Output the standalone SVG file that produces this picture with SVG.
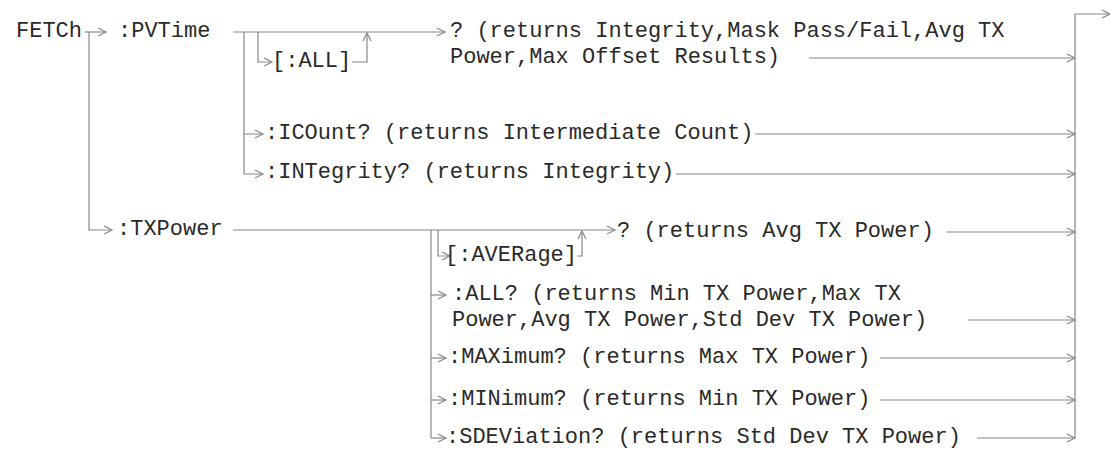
<svg xmlns="http://www.w3.org/2000/svg" width="1110" height="456" viewBox="0 0 1110 456">
<style>
  text { font-family: "Liberation Mono", "Courier New", monospace; font-size: 22px; fill: #2a2a2a; }
  .ln { fill: none; stroke: #888; stroke-width: 1.2; }
  .ar { marker-end: url(#ah); }
</style>
<defs>
  <marker id="ah" markerUnits="userSpaceOnUse" markerWidth="12" markerHeight="12" refX="9" refY="5" orient="auto">
    <path d="M1,1 L9,5 L1,9" fill="none" stroke="#888" stroke-width="1.2"/>
  </marker>
</defs>
<rect width="1110" height="456" fill="#fff"/>
<g id="connectors">
  <path class="ln ar" d="M85,32 H106"/>
  <path class="ln ar" d="M89,32 V230 H112"/>
  <path class="ln ar" d="M233,32 H445"/>
  <path class="ln ar" d="M244,32 V134 H263"/>
  <path class="ln ar" d="M244,134 V174 H263"/>
  <path class="ln ar" d="M258,32 V62 H272"/>
  <path class="ln ar" d="M352,62 H367 V33"/>
  <path class="ln ar" d="M809,58 H1075"/>
  <path class="ln ar" d="M755,134 H1075"/>
  <path class="ln ar" d="M676,174 H1075"/>
  <path class="ln ar" d="M1075,438 V14 H1110"/>
  <path class="ln ar" d="M233,230 H615"/>
  <path class="ln ar" d="M438,230 V256 H450"/>
  <path class="ln ar" d="M577,256 H582 V231"/>
  <path class="ln" d="M431,230 V438"/>
  <path class="ln ar" d="M431,295 H446"/>
  <path class="ln ar" d="M431,358 H446"/>
  <path class="ln ar" d="M431,400 H446"/>
  <path class="ln ar" d="M431,438 H446"/>
  <path class="ln ar" d="M946,232 H1075"/>
  <path class="ln ar" d="M968,320 H1075"/>
  <path class="ln ar" d="M880,358 H1075"/>
  <path class="ln ar" d="M880,400 H1075"/>
  <path class="ln ar" d="M977,438 H1075"/>
</g>
<g id="fetch"><text x="16" y="37">FETCh</text></g>
<g id="pvtime"><text x="118" y="37">:PVTime</text></g>
<g id="pvtime-all"><text x="272" y="67">[:ALL]</text></g>
<g id="pvtime-query">
  <text x="450" y="37">? (returns Integrity,Mask Pass/Fail,Avg TX</text>
  <text x="450" y="63">Power,Max Offset Results)</text>
</g>
<g id="icount"><text x="265" y="139">:ICOunt? (returns Intermediate Count)</text></g>
<g id="integrity"><text x="265" y="178">:INTegrity? (returns Integrity)</text></g>
<g id="txpower"><text x="117" y="235">:TXPower</text></g>
<g id="txpower-query"><text x="617" y="237">? (returns Avg TX Power)</text></g>
<g id="average"><text x="445" y="261">[:AVERage]</text></g>
<g id="all">
  <text x="452" y="300">:ALL? (returns Min TX Power,Max TX</text>
  <text x="452" y="326">Power,Avg TX Power,Std Dev TX Power)</text>
</g>
<g id="maximum"><text x="448" y="363">:MAXimum? (returns Max TX Power)</text></g>
<g id="minimum"><text x="448" y="405">:MINimum? (returns Min TX Power)</text></g>
<g id="sdeviation"><text x="446" y="443">:SDEViation? (returns Std Dev TX Power)</text></g>
</svg>
